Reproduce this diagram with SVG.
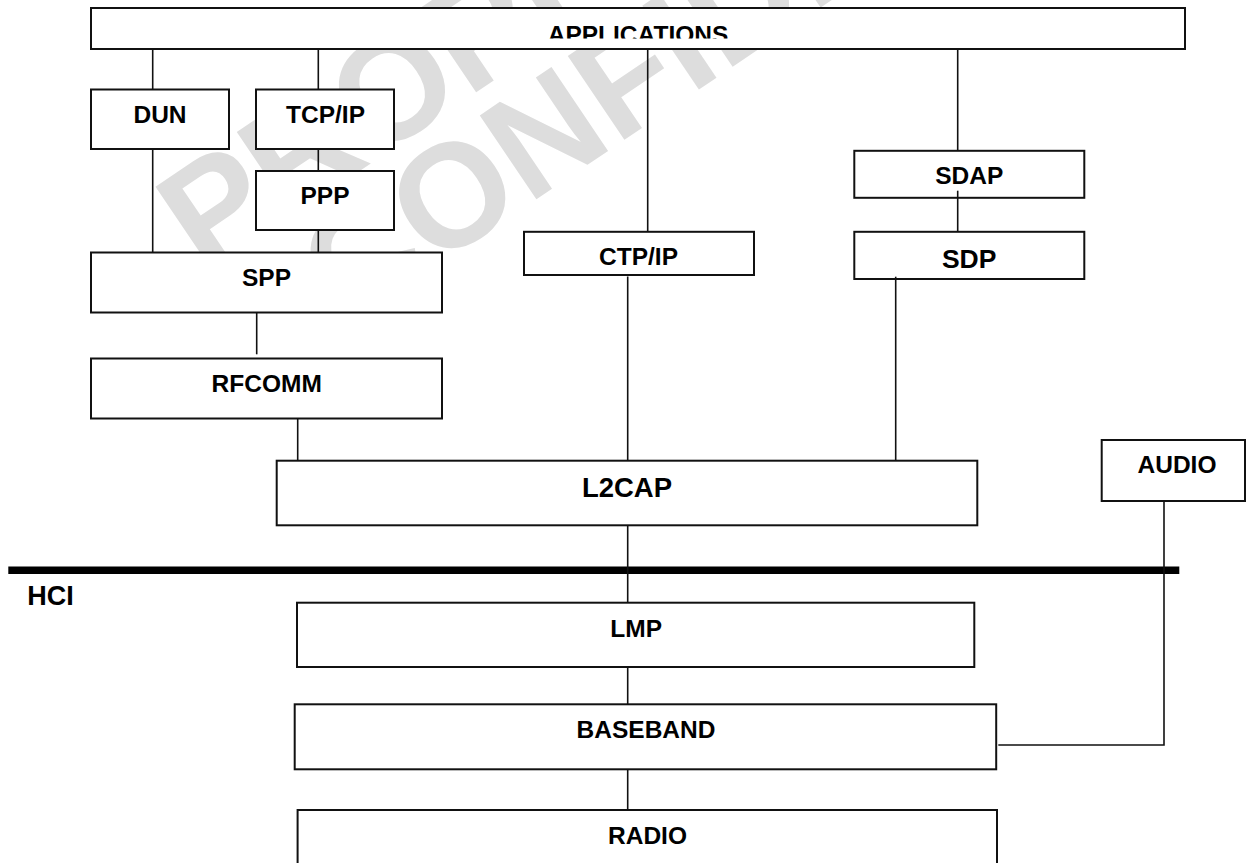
<svg xmlns="http://www.w3.org/2000/svg" width="1246" height="863" viewBox="0 0 1246 863">
  <style>
    .box { fill: #ffffff; stroke: #111111; stroke-width: 2; }
    .lbl { font-family: "Liberation Sans", Arial, sans-serif; font-weight: bold; font-size: 24.5px; fill: #000000; text-anchor: middle; }
    .wire { fill: none; stroke: #111111; stroke-width: 1.6; }
    .bar { fill: none; stroke: #000000; stroke-width: 7.4; }
    .mark { font-family: "Liberation Sans", Arial, sans-serif; font-weight: bold; font-size: 147px; fill: #dddddd; }
  </style>
  <defs>
    <clipPath id="appClip">
      <rect x="91" y="8" width="1094" height="30.5"/>
    </clipPath>
  </defs>
  <rect width="1246" height="863" fill="#ffffff"/>

  <!-- background watermark -->
  <g id="watermark">
    <text class="mark" transform="translate(204,276) rotate(-34)">PROPRIETARY</text>
    <text class="mark" transform="translate(345.5,328) rotate(-34)">CONFIDENTIAL</text>
  </g>

  <!-- protocol stack layers -->
  <g id="applications">
    <rect class="box" x="91" y="8" width="1094" height="41"/>
    <text class="lbl" x="638" y="42.5" clip-path="url(#appClip)">APPLICATIONS</text>
  </g>
  <g id="dun">
    <rect class="box" x="91" y="89.5" width="138" height="59.5"/>
    <text class="lbl" x="160" y="123.3">DUN</text>
  </g>
  <g id="tcpip">
    <rect class="box" x="256" y="89.5" width="138" height="59.5"/>
    <text class="lbl" x="325.5" y="123.3">TCP/IP</text>
  </g>
  <g id="ppp">
    <rect class="box" x="256" y="171" width="138" height="59"/>
    <text class="lbl" x="325" y="204">PPP</text>
  </g>
  <g id="spp">
    <rect class="box" x="91" y="252.5" width="351" height="60"/>
    <text class="lbl" x="266.5" y="285.7">SPP</text>
  </g>
  <g id="rfcomm">
    <rect class="box" x="91" y="358.5" width="351" height="60"/>
    <text class="lbl" x="266.7" y="391.7">RFCOMM</text>
  </g>
  <g id="ctpip">
    <rect class="box" x="524" y="231.8" width="230" height="43.2"/>
    <text class="lbl" x="638.5" y="265">CTP/IP</text>
  </g>
  <g id="sdap">
    <rect class="box" x="854.3" y="150.8" width="230" height="47"/>
    <text class="lbl" x="969.2" y="184.3">SDAP</text>
  </g>
  <g id="sdp">
    <rect class="box" x="854.3" y="231.8" width="230" height="47.2"/>
    <text class="lbl" x="969.2" y="267.7" style="font-size:26.5px">SDP</text>
  </g>
  <g id="l2cap">
    <rect class="box" x="276.7" y="460.7" width="700.6" height="64.6"/>
    <text class="lbl" x="627" y="497.3" style="font-size:27.5px">L2CAP</text>
  </g>
  <g id="audio">
    <rect class="box" x="1101.7" y="440" width="143.3" height="61"/>
    <text class="lbl" x="1177" y="473.3">AUDIO</text>
  </g>
  <g id="hci">
    <line class="bar" x1="8.3" y1="570.3" x2="1179.3" y2="570.3"/>
    <text class="lbl" x="27.3" y="605" style="font-size:27px;text-anchor:start">HCI</text>
  </g>
  <g id="lmp">
    <rect class="box" x="297" y="602.7" width="677.3" height="64.3"/>
    <text class="lbl" x="636.2" y="636.7">LMP</text>
  </g>
  <g id="baseband">
    <rect class="box" x="294.7" y="704.3" width="701.5" height="65"/>
    <text class="lbl" x="646" y="738.3">BASEBAND</text>
  </g>
  <g id="radio">
    <rect class="box" x="297.6" y="810" width="699.4" height="60"/>
    <text class="lbl" x="647.5" y="844.3">RADIO</text>
  </g>

  <!-- links between layers -->
  <g id="connectors">
    <line class="wire" x1="152.7" y1="49" x2="152.7" y2="89.5"/>
    <line class="wire" x1="152.7" y1="149" x2="152.7" y2="252.5"/>
    <line class="wire" x1="318.3" y1="49" x2="318.3" y2="89.5"/>
    <line class="wire" x1="318.3" y1="149" x2="318.3" y2="171"/>
    <line class="wire" x1="318.3" y1="230" x2="318.3" y2="252.5"/>
    <line class="wire" x1="647.7" y1="49" x2="647.7" y2="231.8"/>
    <line class="wire" x1="957.7" y1="49" x2="957.7" y2="150.8"/>
    <line class="wire" x1="957.7" y1="190.7" x2="957.7" y2="231.8"/>
    <line class="wire" x1="627.7" y1="276.5" x2="627.7" y2="460.7"/>
    <line class="wire" x1="895.7" y1="276.7" x2="895.7" y2="460.7"/>
    <line class="wire" x1="256.7" y1="312.5" x2="256.7" y2="354.3"/>
    <line class="wire" x1="297.7" y1="418.5" x2="297.7" y2="460.7"/>
    <line class="wire" x1="627.7" y1="525.3" x2="627.7" y2="602.7"/>
    <line class="wire" x1="627.7" y1="667" x2="627.7" y2="704.3"/>
    <line class="wire" x1="627.7" y1="769.3" x2="627.7" y2="810"/>
    <polyline class="wire" points="1164,501 1164,745 998.3,745"/>
  </g>
</svg>
